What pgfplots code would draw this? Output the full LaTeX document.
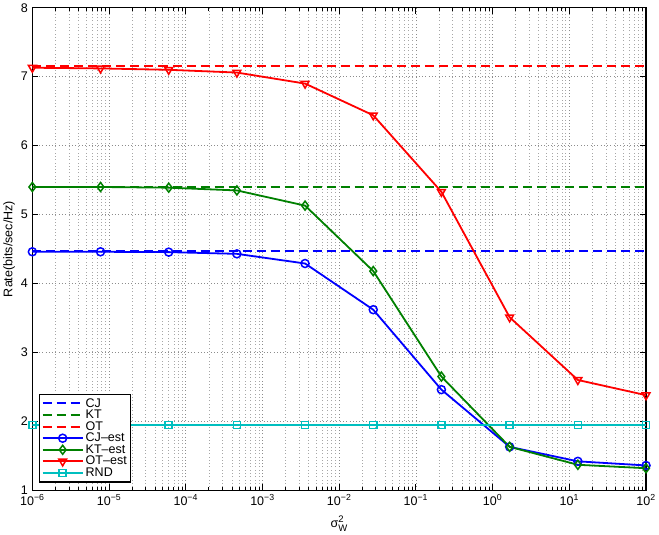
\documentclass[border=0pt]{standalone}
\usepackage{pgfplots}
\pgfplotsset{compat=1.18}
\usepackage{fontspec}
\setmainfont{Liberation Sans}
\definecolor{mblue}{rgb}{0,0,1}
\definecolor{mgreen}{rgb}{0,0.5,0}
\definecolor{mred}{rgb}{1,0,0}
\definecolor{mcyan}{rgb}{0,0.75,0.75}
\begin{document}
\begin{tikzpicture}
\begin{axis}[
 scale only axis, width=613pt, height=482pt,
 xmode=log, xmin=1e-6, xmax=100, ymin=1, ymax=8,
 xtick={1e-6,1e-5,1e-4,1e-3,1e-2,1e-1,1,10,100},
 xticklabels={10\textsuperscript{−6},10\textsuperscript{−5},10\textsuperscript{−4},10\textsuperscript{−3},10\textsuperscript{−2},10\textsuperscript{−1},10\textsuperscript{0},10\textsuperscript{1},10\textsuperscript{2}},
 ytick={1,2,3,4,5,6,7,8},
 /pgf/number format/assume math mode=true,
 tick align=inside,
 major tick length=6pt, minor tick length=3pt,
 grid=both,
 major grid style={dash pattern=on 0.7pt off 2.6pt, black!45, line width=0.7pt},
 minor grid style={dash pattern=on 0.7pt off 2.6pt, black!35, line width=0.7pt},
 axis line style={black, line width=1.1pt},
 tick style={black, line width=0.8pt},
 ticklabel style={font=\fontsize{12.5}{14}\selectfont},
 xticklabel style={yshift=-1pt},
 yticklabel style={xshift=-1pt},
 xlabel={$\mbox{σ}^{\mbox{\fontsize{9.5}{10}\selectfont 2}}_{\mbox{\fontsize{9.5}{10}\selectfont W}}$},
 ylabel={Rate(bits/sec/Hz)},
 label style={font=\fontsize{12.5}{14}\selectfont},
 xlabel style={yshift=-4pt},
 ylabel style={yshift=-1pt},
 legend style={at={(0.011,0.016)}, anchor=south west, font=\fontsize{12.5}{14}\selectfont, draw=black, line width=1.1pt, row sep=-2.6pt, inner sep=2pt},
 legend cell align=left,
 legend image code/.code={\draw[#1, mark repeat=2, mark phase=2] plot coordinates {(0pt,0pt) (20pt,0pt) (40pt,0pt)};},
]
\addplot[color=mblue, line width=2pt, dash pattern=on 9pt off 5pt] coordinates {(1e-6,4.47) (100,4.47)};
\addlegendentry{CJ}
\addplot[color=mgreen, line width=2pt, dash pattern=on 9pt off 5pt] coordinates {(1e-6,5.40) (100,5.40)};
\addlegendentry{KT}
\addplot[color=mred, line width=2pt, dash pattern=on 9pt off 5pt] coordinates {(1e-6,7.16) (100,7.16)};
\addlegendentry{OT}
\addplot[color=mblue, line width=1.8pt, mark=o, mark size=4pt, mark options={solid, line width=1.5pt}] coordinates {
(1e-6,4.46) (7.74e-6,4.46) (5.99e-5,4.455) (4.64e-4,4.43) (3.59e-3,4.29) (2.78e-2,3.62) (0.215,2.46) (1.668,1.63) (12.92,1.42) (100,1.36)};
\addlegendentry{CJ--est}
\addplot[color=mgreen, line width=1.8pt, mark=diamond, mark size=4.5pt, mark options={solid, line width=1.5pt}] coordinates {
(1e-6,5.40) (7.74e-6,5.40) (5.99e-5,5.39) (4.64e-4,5.35) (3.59e-3,5.13) (2.78e-2,4.18) (0.215,2.65) (1.668,1.63) (12.92,1.37) (100,1.32)};
\addlegendentry{KT--est}
\addplot[color=mred, line width=1.8pt, mark=triangle, mark size=4.5pt, mark options={solid, line width=1.5pt, rotate=180}] coordinates {
(1e-6,7.13) (7.74e-6,7.12) (5.99e-5,7.10) (4.64e-4,7.06) (3.59e-3,6.90) (2.78e-2,6.44) (0.215,5.33) (1.668,3.51) (12.92,2.60) (100,2.38)};
\addlegendentry{OT--est}
\addplot[color=mcyan, line width=1.8pt, mark=square, mark size=3.5pt, mark options={solid, line width=1.5pt}] coordinates {
(1e-6,1.95) (7.74e-6,1.95) (5.99e-5,1.95) (4.64e-4,1.95) (3.59e-3,1.95) (2.78e-2,1.95) (0.215,1.95) (1.668,1.95) (12.92,1.95) (100,1.95)};
\addlegendentry{RND}
\end{axis}
\end{tikzpicture}
\end{document}
